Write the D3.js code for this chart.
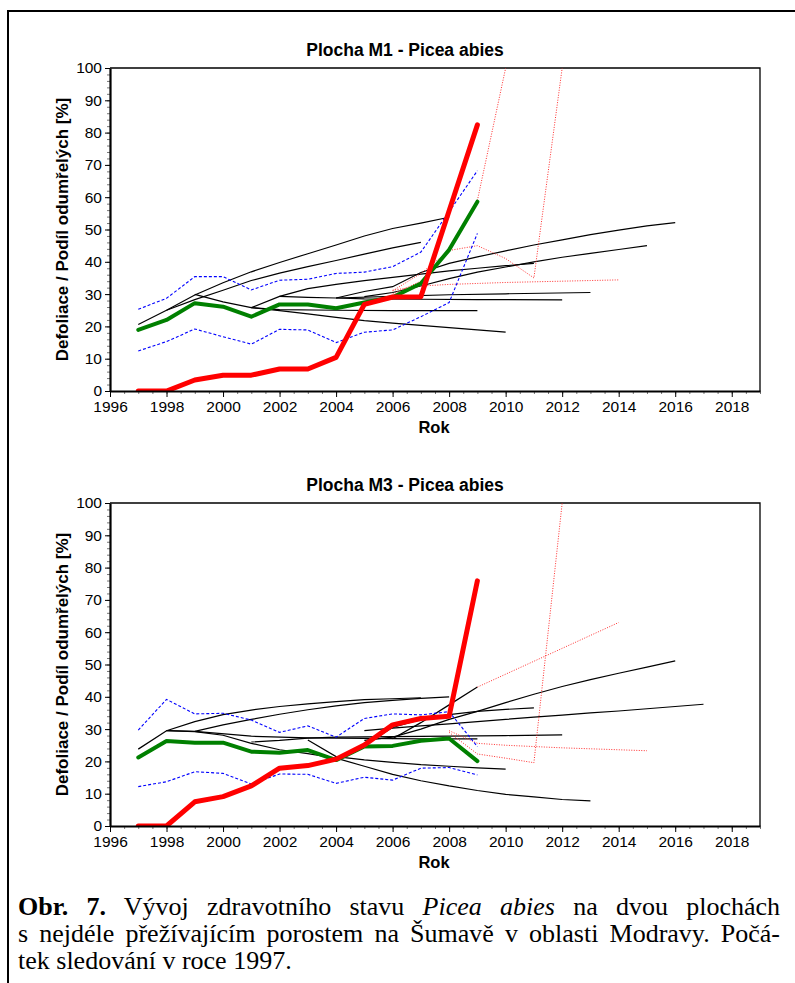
<!DOCTYPE html>
<html>
<head>
<meta charset="utf-8">
<script src="https://cdn.jsdelivr.net/npm/d3@7"></script>
<style>
  body { margin: 0; background: #fff; }
  #wrap { position: relative; width: 795px; height: 983px; overflow: hidden; }
  #caption {
    position: absolute; left: 18px; top: 893px; width: 762px;
    font-family: "Liberation Serif", "Times New Roman", serif;
    font-size: 26px; line-height: 27px; color: #000;
  }
  #caption .ln { display: block; text-align: justify; text-align-last: justify; white-space: nowrap; }
  #caption .ln.last { text-align-last: left; }
</style>
</head>
<body>
<div id="wrap">
  <svg id="fig" width="795" height="983"></svg>
  <div id="caption">
    <span class="ln"><b>Obr. 7.</b> Vývoj zdravotního stavu <i>Picea abies</i> na dvou plochách</span>
    <span class="ln">s nejdéle přežívajícím porostem na Šumavě v oblasti Modravy. Počá-</span>
    <span class="ln last">tek sledování v roce 1997.</span>
  </div>
</div>
<script>
// ---- data ----
var years = [1997, 1998, 1999, 2000, 2001, 2002, 2003, 2004, 2005, 2006, 2007, 2008, 2009];

// Plocha M1
var m1Dead   = [0, 0, 3.4, 4.9, 4.9, 6.8, 6.8, 10.4, 26.8, 29.1, 29.2, 55.8, 82.4];
var m1Defol  = [18.9, 22, 27.2, 26.1, 23, 26.8, 26.8, 25.6, 27.4, 29, 33.3, 43.7, 58.6];
var m1Upper  = [25.3, 28.7, 35.4, 35.4, 31.3, 34.3, 34.6, 36.4, 36.8, 38.5, 43, 55.5, 68.2];
var m1Lower  = [12.4, 15.3, 19.2, 16.8, 14.5, 19.1, 18.9, 15, 18.2, 18.9, 23, 27.4, 48.8];
var m1Black = [
  [[1997, 20.6], [1998, 25], [1999, 29.7], [2000, 33.5], [2001, 36.9], [2002, 39.8], [2003, 42.5], [2004, 45.2], [2005, 48], [2006, 50.3], [2007, 52], [2008, 53.8]],
  [[1998, 25], [1999, 28.3], [2000, 31.2], [2001, 34.2], [2002, 36.5], [2003, 38.5], [2004, 40.4], [2005, 42.4], [2006, 44.3], [2007, 46]],
  [[1999, 29.9], [2000, 27.6], [2001, 25.8], [2002, 24.9], [2003, 23.9], [2004, 22.8], [2005, 21.8], [2006, 21], [2007, 20.3], [2008, 19.6], [2009, 18.9], [2010, 18.2]],
  [[2001, 25.8], [2002, 25.2], [2004, 25], [2006, 24.9], [2009, 24.9]],
  [[2001, 25.8], [2002, 29.3], [2003, 31.7], [2004, 33], [2005, 34.2], [2006, 35.2], [2007, 36.2], [2008, 37.2], [2009, 38], [2010, 38.8], [2011, 39.5]],
  [[2002, 29.3], [2003, 29], [2004, 28.8], [2006, 29.3], [2008, 29.8], [2010, 30.1], [2013, 30.5]],
  [[2004, 28.8], [2005, 28.5], [2007, 28.4], [2009, 28.3], [2012, 28.2]],
  [[2004, 28.8], [2005, 30.8], [2006, 32.3], [2007, 36.7], [2008, 39.5], [2009, 41.5], [2010, 43.4], [2011, 45.2], [2012, 46.8], [2013, 48.4], [2014, 49.8], [2015, 51.1], [2016, 52.1]],
  [[2005, 29.2], [2006, 30.5], [2007, 32.5], [2008, 34.8], [2009, 36.8], [2010, 38.4], [2011, 40], [2012, 41.4], [2013, 42.6], [2014, 43.8], [2015, 45]]
];
var m1Dotted = [
  [[2006, 30], [2007, 34], [2008, 44], [2009, 59], [2010, 100]],
  [[2006, 31], [2007, 36.4], [2008, 43.5], [2009, 45], [2010, 41], [2011, 35], [2012, 100]],
  [[2006, 31.2], [2007, 32.5], [2008, 33], [2009, 33.3], [2010, 33.6], [2011, 33.8], [2012, 34], [2013, 34.2], [2014, 34.4]]
];

// Plocha M3
var m3Dead   = [0, 0, 7.5, 9.1, 12.4, 17.9, 18.7, 20.7, 25.1, 31.3, 33.3, 34, 75.9];
var m3Defol  = [21.2, 26.3, 25.8, 25.8, 23, 22.7, 23.5, 20.4, 24.6, 24.8, 26.4, 27.1, 20.1];
var m3Upper  = [29.7, 39.2, 34.7, 34.9, 32.8, 29, 31, 27.5, 33.3, 34.7, 34.4, 35.4, 24.6];
var m3Lower  = [12.2, 13.7, 16.8, 16.3, 13, 16.1, 16, 13.2, 15.1, 14.2, 17.9, 18.1, 15.8];
var m3Black = [
  [[1997, 23.8], [1998, 29.5], [1999, 32.3], [2000, 34.5], [2001, 35.9], [2002, 37], [2003, 37.8], [2004, 38.5], [2005, 39.1], [2006, 39.4], [2007, 39.7]],
  [[1998, 29.5], [1999, 29.3], [2000, 31.3], [2001, 33], [2002, 34.6], [2003, 36], [2004, 37.2], [2005, 38.2], [2006, 38.9], [2007, 39.5], [2008, 40]],
  [[1998, 29.5], [1999, 29.2], [2000, 28.1], [2001, 25.6], [2002, 23.6], [2003, 22.4], [2004, 21], [2005, 18.5], [2006, 16], [2007, 14], [2008, 12.4], [2009, 11], [2010, 9.8], [2011, 9], [2012, 8.2], [2013, 7.8]],
  [[1999, 29.3], [2001, 27.8], [2003, 27.3], [2005, 27.1], [2007, 27], [2009, 27]],
  [[2001, 26], [2002, 26.5], [2003, 27.2], [2004, 27.5], [2006, 27.7], [2008, 27.8], [2010, 28], [2012, 28.2]],
  [[2003, 26.6], [2004, 21.5], [2005, 20.5], [2006, 19.7], [2007, 19], [2008, 18.5], [2009, 18], [2010, 17.6]],
  [[2004, 21], [2005, 25], [2006, 30.5], [2007, 33], [2008, 34.5], [2009, 35.5], [2010, 36.1], [2011, 36.6]],
  [[2005, 26.5], [2006, 27.5], [2007, 30], [2008, 33], [2009, 35.5], [2010, 38.2], [2011, 40.8], [2012, 43.2], [2013, 45.3], [2014, 47.3], [2015, 49.2], [2016, 51.1]],
  [[2006, 27], [2007, 32], [2008, 37.5], [2009, 43]],
  [[2005, 29.5], [2006, 30.3], [2007, 31], [2008, 31.6], [2009, 32.3], [2010, 33], [2011, 33.7], [2012, 34.3], [2013, 35], [2014, 35.6], [2015, 36.3], [2016, 37], [2017, 37.7]]
];
var m3Dotted = [
  [[2009, 43], [2010, 47], [2011, 51], [2012, 55], [2013, 59], [2014, 63]],
  [[2008, 29.5], [2009, 25.6], [2010, 25], [2011, 24.6], [2012, 24.2], [2013, 23.9], [2014, 23.6], [2015, 23.3]],
  [[2008, 29], [2009, 22.3], [2010, 21], [2011, 19.6], [2012, 100]]
];

var xMajor = d3.range(1996, 2019, 2);
var xMinor = d3.range(1996, 2019.01, 0.5);
var yMajor = d3.range(0, 101, 10);
var yMinor = d3.range(0, 101, 2);

var sans = "'Liberation Sans', Arial, sans-serif";
var svg = d3.select("#fig");

// outer frame
svg.append("path")
  .attr("d", "M8,983 V11 H800")
  .attr("fill", "none")
  .attr("stroke", "#000")
  .attr("stroke-width", 2);

function pairs(vals) {
  return years.map(function(y, i) { return [y, vals[i]]; });
}

function drawPanel(id, title, top, bottom, dead, defol, upper, lower, black, dotted) {
  var left = 110, right = 760;
  var x = d3.scaleLinear().domain([1996, 2019]).range([left, right]);
  var y = d3.scaleLinear().domain([0, 100]).range([bottom, top]);
  var g = svg.append("g");

  g.append("text")
    .attr("x", 405).attr("y", top - 12)
    .attr("text-anchor", "middle")
    .attr("font-family", sans)
    .attr("font-weight", "bold").attr("font-size", 17.5)
    .text(title);

  g.append("clipPath").attr("id", id)
    .append("rect")
    .attr("x", left).attr("y", top)
    .attr("width", right - left).attr("height", bottom - top);

  // thin frame top/right
  g.append("path")
    .attr("d", "M" + left + "," + top + "H" + right + "V" + bottom)
    .attr("fill", "none").attr("stroke", "#000").attr("stroke-width", 1.3);

  var line = d3.line()
    .x(function(d) { return x(d[0]); })
    .y(function(d) { return y(d[1]); });

  var plot = g.append("g").attr("clip-path", "url(#" + id + ")");

  plot.selectAll(".black").data(black).enter().append("path")
    .attr("fill", "none").attr("stroke", "#000").attr("stroke-width", 1.2)
    .attr("d", line);

  plot.selectAll(".dotted").data(dotted).enter().append("path")
    .attr("fill", "none").attr("stroke", "#ff3030").attr("stroke-width", 1)
    .attr("stroke-dasharray", "1,1.5")
    .attr("d", line);

  [upper, lower].forEach(function(s) {
    plot.append("path")
      .attr("fill", "none").attr("stroke", "#0000ff").attr("stroke-width", 1.1)
      .attr("stroke-dasharray", "3,2")
      .attr("d", line(pairs(s)));
  });

  plot.append("path")
    .attr("fill", "none").attr("stroke", "#008000").attr("stroke-width", 4)
    .attr("stroke-linejoin", "round").attr("stroke-linecap", "round")
    .attr("d", line(pairs(defol)));

  plot.append("path")
    .attr("fill", "none").attr("stroke", "#ff0000").attr("stroke-width", 5)
    .attr("stroke-linejoin", "round").attr("stroke-linecap", "round")
    .attr("d", line(pairs(dead)));

  // minor ticks
  g.append("g").attr("transform", "translate(0," + bottom + ")")
    .call(d3.axisBottom(x).tickValues(xMinor).tickSize(3).tickFormat(""))
    .call(function(a) { a.select(".domain").remove(); a.selectAll("line").attr("stroke", "#777"); });
  g.append("g").attr("transform", "translate(" + left + ",0)")
    .call(d3.axisLeft(y).tickValues(yMinor).tickSize(3).tickFormat(""))
    .call(function(a) { a.select(".domain").remove(); a.selectAll("line").attr("stroke", "#777"); });

  // major axes
  var xa = g.append("g").attr("transform", "translate(0," + bottom + ")")
    .call(d3.axisBottom(x).tickValues(xMajor).tickSize(6).tickSizeOuter(0).tickPadding(4).tickFormat(d3.format("d")));
  var ya = g.append("g").attr("transform", "translate(" + left + ",0)")
    .call(d3.axisLeft(y).tickValues(yMajor).tickSize(5).tickSizeOuter(0).tickPadding(3));
  [xa, ya].forEach(function(a) {
    a.select(".domain").attr("stroke-width", 2.2);
    a.selectAll("text")
      .attr("font-family", sans)
      .attr("font-size", 15.5).attr("fill", "#000");
  });

  g.append("text")
    .attr("x", 434).attr("y", bottom + 42)
    .attr("text-anchor", "middle")
    .attr("font-family", sans)
    .attr("font-weight", "bold").attr("font-size", 16.5)
    .text("Rok");

  g.append("text")
    .attr("transform", "translate(68," + (top + bottom) / 2 + ") rotate(-90)")
    .attr("text-anchor", "middle")
    .attr("font-family", sans)
    .attr("font-weight", "bold").attr("font-size", 17)
    .text("Defoliace / Podíl odumřelých [%]");
}

drawPanel("clipM1", "Plocha M1 - Picea abies", 68, 391, m1Dead, m1Defol, m1Upper, m1Lower, m1Black, m1Dotted);
drawPanel("clipM3", "Plocha M3 - Picea abies", 503, 826, m3Dead, m3Defol, m3Upper, m3Lower, m3Black, m3Dotted);
</script>
</body>
</html>
